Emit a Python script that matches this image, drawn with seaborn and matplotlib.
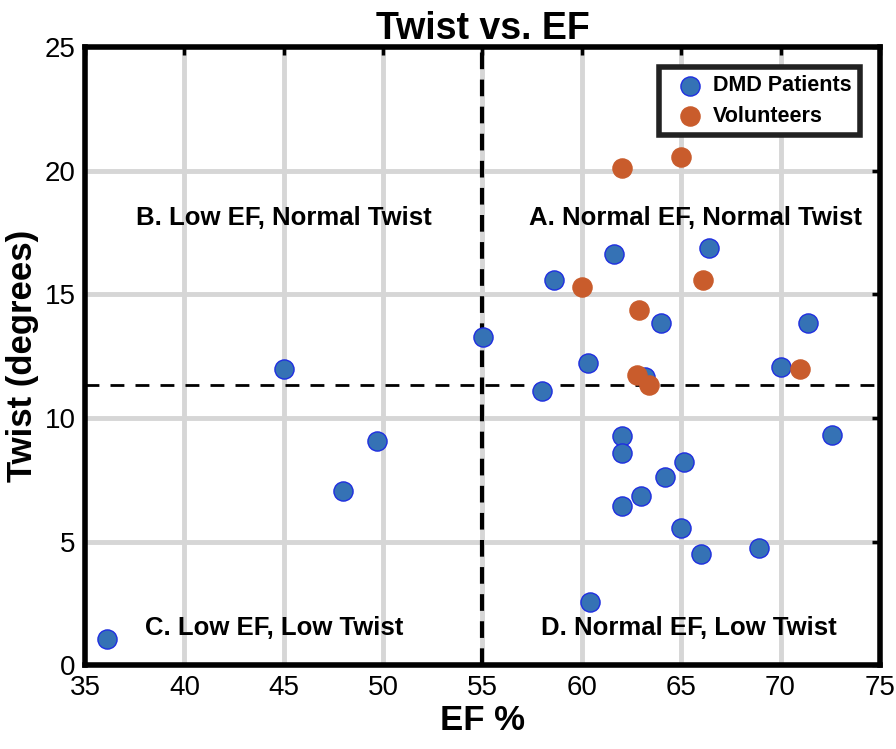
import numpy as np
import pandas as pd
import seaborn as sns
from matplotlib import pyplot as plt

# DMD patients
dmd_ef = [36.1, 45.0, 48.0, 49.7, 55.05, 58.0, 58.6, 60.3, 61.6, 64.0, 66.4, 70.0, 71.4, 72.6,
          63.2, 62.0, 62.0, 65.15, 64.2, 63.0, 62.0, 65.0, 66.0, 68.9, 60.4]
dmd_twist = [1.05, 12.0, 7.05, 9.05, 13.28, 11.1, 15.58, 12.23, 16.64, 13.85, 16.88, 12.06, 13.85, 9.31,
             11.65, 9.27, 8.6, 8.22, 7.62, 6.85, 6.45, 5.55, 4.48, 4.72, 2.56]

# Volunteers
vol_ef = [62.0, 65.0, 60.0, 66.1, 62.9, 62.8, 63.4, 71.0]
vol_twist = [20.1, 20.55, 15.3, 15.6, 14.37, 11.75, 11.32, 11.98]

ef_cut = 55
twist_cut = 11.33

df = pd.DataFrame({
    "EF": dmd_ef + vol_ef,
    "Twist": dmd_twist + vol_twist,
    "group": ["DMD Patients"] * len(dmd_ef) + ["Volunteers"] * len(vol_ef),
})

sns.set_style("white")
plt.rcParams['font.family'] = ['Liberation Sans', 'DejaVu Sans']
plt.rcParams['text.color'] = 'black'
plt.rcParams['axes.labelcolor'] = 'black'
plt.rcParams['xtick.color'] = 'black'
plt.rcParams['ytick.color'] = 'black'

fig = plt.figure(figsize=(8.96, 7.49), dpi=100)
ax = fig.add_axes([0.095, 0.112, 0.887, 0.825])

# grid
for gx in range(40, 75, 5):
    ax.axvline(gx, color="#d6d6d6", lw=3.5, zorder=0)
for gy in range(5, 25, 5):
    ax.axhline(gy, color="#d6d6d6", lw=3.5, zorder=0)

ax.axvline(ef_cut, color="black", lw=3, ls=(0, (4, 2.5)), zorder=1)
ax.axhline(twist_cut, color="black", lw=2, ls=(0, (5, 4)), zorder=1)

sns.scatterplot(data=df[df.group == "DMD Patients"], x="EF", y="Twist", ax=ax,
                color="#3572b5", edgecolor="#1f2ee0", linewidth=1.0, s=190,
                label="DMD Patients", zorder=3)
sns.scatterplot(data=df[df.group == "Volunteers"], x="EF", y="Twist", ax=ax,
                color="#c95c2c", edgecolor="#c95c2c", linewidth=1.0, s=190,
                label="Volunteers", zorder=3)

ax.set_xlim(35, 75)
ax.set_ylim(0, 25)
ax.set_xticks(range(35, 80, 5))
ax.set_yticks(range(0, 30, 5))
ax.tick_params(direction="in", length=6, width=2.5, labelsize=20, top=True, right=True, pad=7)
for sp in ax.spines.values():
    sp.set_linewidth(4)
    sp.set_color("black")
    sp.set_visible(True)

ax.set_xlabel("EF %", fontsize=25, fontweight="bold", labelpad=2)
ax.set_ylabel("Twist (degrees)", fontsize=25, fontweight="bold", labelpad=4)
ax.set_title("Twist vs. EF", fontsize=27, fontweight="bold", pad=6)

qfont = dict(fontsize=18.5, fontweight="bold", ha="center", va="center")
ax.text(45.0, 18.1, "B. Low EF, Normal Twist", **qfont)
ax.text(65.7, 18.1, "A. Normal EF, Normal Twist", **qfont)
ax.text(44.5, 1.5, "C. Low EF, Low Twist", **qfont)
ax.text(65.4, 1.5, "D. Normal EF, Low Twist", **qfont)

leg = ax.legend(loc="upper right", prop={"size": 15.5, "weight": "bold"}, frameon=True,
                fancybox=False, borderpad=0.4, handletextpad=0.1, labelspacing=0.45,
                borderaxespad=0.9, markerscale=1.0)
leg.get_frame().set_edgecolor("#222222")
leg.get_frame().set_linewidth(4)
leg.get_frame().set_alpha(1)

plt.savefig("out.png", dpi=100)
